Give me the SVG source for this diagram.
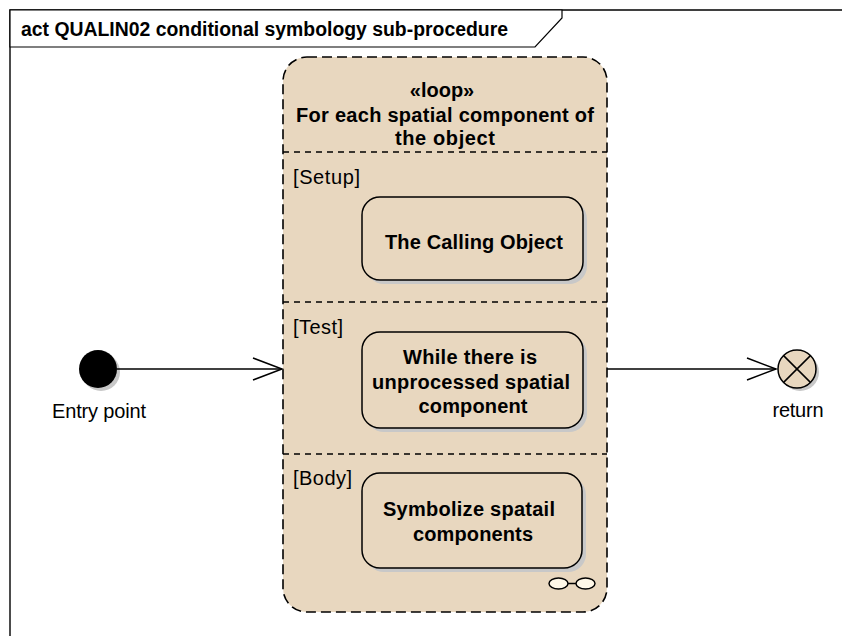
<svg xmlns="http://www.w3.org/2000/svg" width="842" height="636" viewBox="0 0 842 636">
<style>
  .b { font-family: "Liberation Sans", Arial, sans-serif; font-weight: bold; font-size: 20px; fill: #000; }
  .r { font-family: "Liberation Sans", Arial, sans-serif; font-size: 20px; fill: #000; }
  .mid { text-anchor: middle; }
  .node { fill: #E8D7BF; stroke: #000; stroke-width: 1.5; }
  .shadow { fill: #C8C8C8; }
  .conn { stroke: #000; stroke-width: 1.5; fill: none; }
  .div { stroke: #000; stroke-width: 1.4; stroke-dasharray: 6 5; }
</style>
<rect x="0" y="0" width="842" height="636" fill="#fff"/>
<g id="frame">
  <path d="M10 636 V10 H842" fill="none" stroke="#000" stroke-width="1.4"/>
  <polygon points="10,10 562,10 562,18 535,47 10,47" fill="#fff" stroke="#000" stroke-width="1.2"/>
  <text class="b" x="21" y="36" font-size="19" textLength="487" lengthAdjust="spacingAndGlyphs">act QUALIN02 conditional symbology sub-procedure</text>
</g>
<g id="loop">
  <rect x="283" y="57" width="324" height="555" rx="24" fill="#E8D7BF" stroke="#000" stroke-width="1.6" stroke-dasharray="10 5"/>
  <line class="div" x1="283" y1="152" x2="607" y2="152"/>
  <line class="div" x1="283" y1="302" x2="607" y2="302"/>
  <line class="div" x1="283" y1="454" x2="607" y2="454"/>
  <text class="b mid" x="442" y="97" font-size="19">«loop»</text>
  <text class="b mid" x="445" y="122" textLength="298">For each spatial component of</text>
  <text class="b mid" x="445" y="145" textLength="100">the object</text>
  <text class="r" x="293" y="184" textLength="67">[Setup]</text>
  <text class="r" x="293" y="334" textLength="50">[Test]</text>
  <text class="r" x="293" y="485" textLength="59">[Body]</text>
  <g id="expansion">
    <line x1="567" y1="583.5" x2="577" y2="583.5" stroke="#000" stroke-width="1.5"/>
    <ellipse cx="558.5" cy="583.5" rx="9.5" ry="5.5" fill="#FFF8E8" stroke="#000" stroke-width="1.5"/>
    <ellipse cx="585.5" cy="583.5" rx="9.5" ry="5.5" fill="#FFF8E8" stroke="#000" stroke-width="1.5"/>
  </g>
</g>
<g id="calling-object">
  <rect class="shadow" x="366" y="201" width="221" height="83" rx="18"/>
  <rect class="node" x="362" y="197" width="221" height="83" rx="18"/>
  <text class="b mid" x="474" y="249" textLength="178">The Calling Object</text>
</g>
<g id="while-test">
  <rect class="shadow" x="366" y="336" width="221" height="96" rx="18"/>
  <rect class="node" x="362" y="332" width="221" height="96" rx="18"/>
  <text class="b mid" x="470" y="364" textLength="134">While there is</text>
  <text class="b mid" x="471" y="389" textLength="198">unprocessed spatial</text>
  <text class="b mid" x="473" y="413" textLength="109">component</text>
</g>
<g id="symbolize">
  <rect class="shadow" x="366" y="477" width="220" height="95" rx="18"/>
  <rect class="node" x="362" y="473" width="220" height="95" rx="18"/>
  <text class="b mid" x="469" y="516" textLength="172">Symbolize spatail</text>
  <text class="b mid" x="473" y="541" textLength="120">components</text>
</g>
<g id="entry-point">
  <circle cx="101" cy="372" r="19" class="shadow"/>
  <circle cx="98" cy="369" r="19" fill="#000"/>
  <text class="r mid" x="99" y="418" textLength="94">Entry point</text>
</g>
<g id="return">
  <circle cx="800" cy="372" r="19" class="shadow"/>
  <circle cx="797" cy="369" r="19" fill="#E8D7BF" stroke="#000" stroke-width="1.5"/>
  <line x1="783.6" y1="355.6" x2="810.4" y2="382.4" stroke="#000" stroke-width="1.5"/>
  <line x1="810.4" y1="355.6" x2="783.6" y2="382.4" stroke="#000" stroke-width="1.5"/>
  <text class="r mid" x="798" y="417" textLength="51">return</text>
</g>
<g id="connectors">
  <line class="conn" x1="117" y1="369" x2="282" y2="369"/>
  <polyline class="conn" points="253,358 282,369 253,380"/>
  <line class="conn" x1="607" y1="369" x2="776" y2="369"/>
  <polyline class="conn" points="747,358 776,369 747,380"/>
</g>
</svg>
